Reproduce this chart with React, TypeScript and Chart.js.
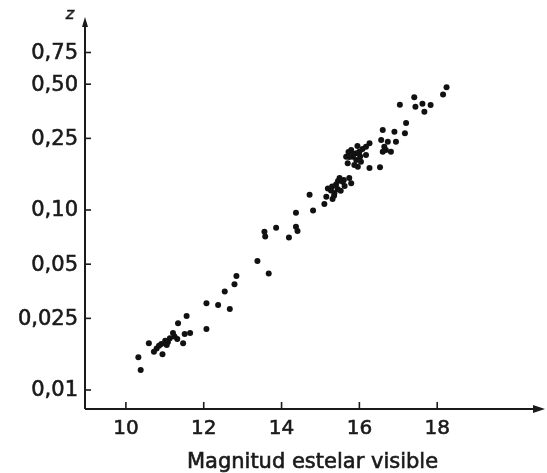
import React, { useEffect, useRef } from "react";
import { Chart, registerables } from "chart.js";

Chart.register(...registerables);

// Visible magnitude (x) of each galaxy
const magnitudes = [
  10.32, 10.38, 10.59, 10.72, 10.79, 10.85, 10.94, 10.91, 11.01, 11.08,
  11.13, 11.21, 11.32, 11.34, 11.47, 11.51, 11.56, 11.65, 12.07, 12.07,
  12.37, 12.67, 12.54, 12.79, 12.84, 13.38, 13.67, 13.56, 13.58, 13.86,
  14.19, 14.37, 14.41, 14.37, 14.72, 14.81, 15.10, 15.15, 15.19, 15.27,
  15.36, 15.40, 15.49, 15.57, 15.62, 15.74, 15.79, 15.44, 15.31, 15.66,
  15.70, 15.74, 15.79, 15.83, 15.87, 15.92, 15.96, 16.00, 16.04, 15.92,
  16.17, 16.17, 16.26, 16.26, 16.53, 16.08, 15.72, 15.95, 16.60, 16.56,
  16.64, 16.68, 16.73, 16.81, 16.90, 16.94, 17.17, 17.20, 16.60, 17.04,
  17.41, 17.44, 17.62, 17.67, 17.83, 18.15, 18.24,
  15.30, 15.45, 15.52, 15.35, 15.60, 15.85, 16.02, 11.05, 11.25,
];

// Redshift z of each galaxy
const redshifts = [
  0.0152, 0.0129, 0.0182, 0.0163, 0.0170, 0.0176, 0.0158, 0.0180, 0.0188, 0.0185,
  0.0194, 0.0207, 0.0192, 0.0235, 0.0182, 0.0205, 0.0258, 0.0207, 0.0218, 0.0303,
  0.0297, 0.0282, 0.0352, 0.0387, 0.0430, 0.0521, 0.0444, 0.0758, 0.0713, 0.0797,
  0.0704, 0.0808, 0.0765, 0.0966, 0.1216, 0.0994, 0.1080, 0.1186, 0.1316, 0.1283,
  0.1243, 0.1386, 0.1506, 0.1436, 0.1359, 0.1506, 0.1407, 0.1308, 0.1151, 0.1978,
  0.1817, 0.1970, 0.2154, 0.1978, 0.1778, 0.1896, 0.1740, 0.2108, 0.1855, 0.2065,
  0.2247, 0.2021, 0.2348, 0.1712, 0.1727, 0.2183, 0.2100, 0.2268, 0.2783, 0.2448,
  0.2247, 0.2154, 0.2395, 0.2108, 0.2723, 0.2395, 0.2668, 0.3043, 0.2108, 0.3846,
  0.4227, 0.3750, 0.3896, 0.3516, 0.3831, 0.4382, 0.4805,
  0.1350, 0.1450, 0.1280, 0.1200, 0.1470, 0.2050, 0.1980, 0.0178, 0.0198,
];

const xTickValues = [10, 12, 14, 16, 18];
const xTickLabels = ["10", "12", "14", "16", "18"];
const yTickValues = [0.01, 0.025, 0.05, 0.1, 0.25, 0.5, 0.75];
const yTickLabels = ["0,01", "0,025", "0,05", "0,10", "0,25", "0,50", "0,75"];
const xTitle = "Magnitud estelar visible";
const yTitle = "z";

const INK = "#1a1a1a";

function boldText(ctx: CanvasRenderingContext2D, s: string, x: number, y: number) {
  ctx.fillText(s, x, y);
  ctx.strokeText(s, x, y);
}

const axesPlugin = {
  id: "handDrawnAxes",
  afterDraw(chart: any) {
    const ctx = chart.ctx as CanvasRenderingContext2D;
    const xs = chart.scales.x;
    const ys = chart.scales.y;
    const a = chart.chartArea;
    ctx.save();
    ctx.strokeStyle = INK;
    ctx.fillStyle = INK;
    ctx.lineWidth = 2;
    // y axis line
    ctx.beginPath();
    ctx.moveTo(a.left, a.bottom);
    ctx.lineTo(a.left, a.top + 4);
    ctx.stroke();
    // y arrow head
    ctx.beginPath();
    ctx.moveTo(a.left, a.top - 1);
    ctx.lineTo(a.left - 3, a.top + 9);
    ctx.lineTo(a.left + 3, a.top + 9);
    ctx.closePath();
    ctx.fill();
    // x axis line
    ctx.beginPath();
    ctx.moveTo(a.left, a.bottom);
    ctx.lineTo(a.right - 6, a.bottom);
    ctx.stroke();
    // x arrow head
    ctx.beginPath();
    ctx.moveTo(a.right + 1, a.bottom);
    ctx.lineTo(a.right - 11, a.bottom - 4);
    ctx.lineTo(a.right - 11, a.bottom + 4);
    ctx.closePath();
    ctx.fill();

    // tick marks
    ctx.lineWidth = 1.6;
    yTickValues.forEach((v) => {
      const py = ys.getPixelForValue(v);
      ctx.beginPath();
      ctx.moveTo(a.left, py);
      ctx.lineTo(a.left + 6, py);
      ctx.stroke();
    });
    xTickValues.forEach((v) => {
      const px = xs.getPixelForValue(v);
      ctx.beginPath();
      ctx.moveTo(px, a.bottom);
      ctx.lineTo(px, a.bottom - 7);
      ctx.stroke();
    });

    ctx.lineWidth = 0.6;
    ctx.font = '21px "DejaVu Sans"';
    ctx.textAlign = "right";
    ctx.textBaseline = "middle";
    yTickValues.forEach((v, i) => {
      const py = ys.getPixelForValue(v);
      boldText(ctx, yTickLabels[i], a.left - 7, py + 1);
    });

    ctx.font = '20px "DejaVu Sans"';
    ctx.textAlign = "center";
    ctx.textBaseline = "middle";
    xTickValues.forEach((v, i) => {
      const px = xs.getPixelForValue(v);
      boldText(ctx, xTickLabels[i], px, a.bottom + 20);
    });

    // axis titles
    ctx.font = '21px "DejaVu Sans"';
    boldText(ctx, xTitle, (a.left + a.right) / 2 - 2, a.bottom + 54);
    ctx.font = 'italic 16px "DejaVu Sans"';
    boldText(ctx, yTitle, a.left - 15, a.top - 3);
    ctx.restore();
  },
};

export default function App() {
  const canvasRef = useRef<HTMLCanvasElement | null>(null);

  useEffect(() => {
    const canvas = canvasRef.current;
    if (!canvas) return;
    const points = magnitudes.map((m, i) => ({ x: m, y: redshifts[i] }));
    const chart = new Chart(canvas, {
      type: "scatter",
      data: {
        datasets: [
          {
            data: points,
            pointRadius: 3,
            pointHoverRadius: 3,
            backgroundColor: "#111",
            borderWidth: 0,
          },
        ],
      },
      options: {
        responsive: false,
        animation: false,
        events: [],
        layout: { padding: { top: 18, right: 2, left: 0, bottom: 0 } },
        plugins: {
          legend: { display: false },
          tooltip: { enabled: false },
        },
        scales: {
          x: {
            type: "linear",
            min: 8.949,
            max: 20.744,
            grid: { display: false },
            border: { display: false },
            ticks: { display: false },
            afterFit: (scale: any) => {
              scale.height = 64;
            },
          },
          y: {
            type: "logarithmic",
            min: 0.007842,
            max: 1.166,
            grid: { display: false },
            border: { display: false },
            ticks: { display: false },
            afterFit: (scale: any) => {
              scale.width = 85;
            },
          },
        },
      },
      plugins: [axesPlugin],
    });
    return () => chart.destroy();
  }, []);

  return (
    <div style={{ position: "absolute", left: 0, top: 0, width: 547, height: 473, background: "#fff" }}>
      <canvas ref={canvasRef} width={547} height={473} style={{ display: "block" }} />
    </div>
  );
}
